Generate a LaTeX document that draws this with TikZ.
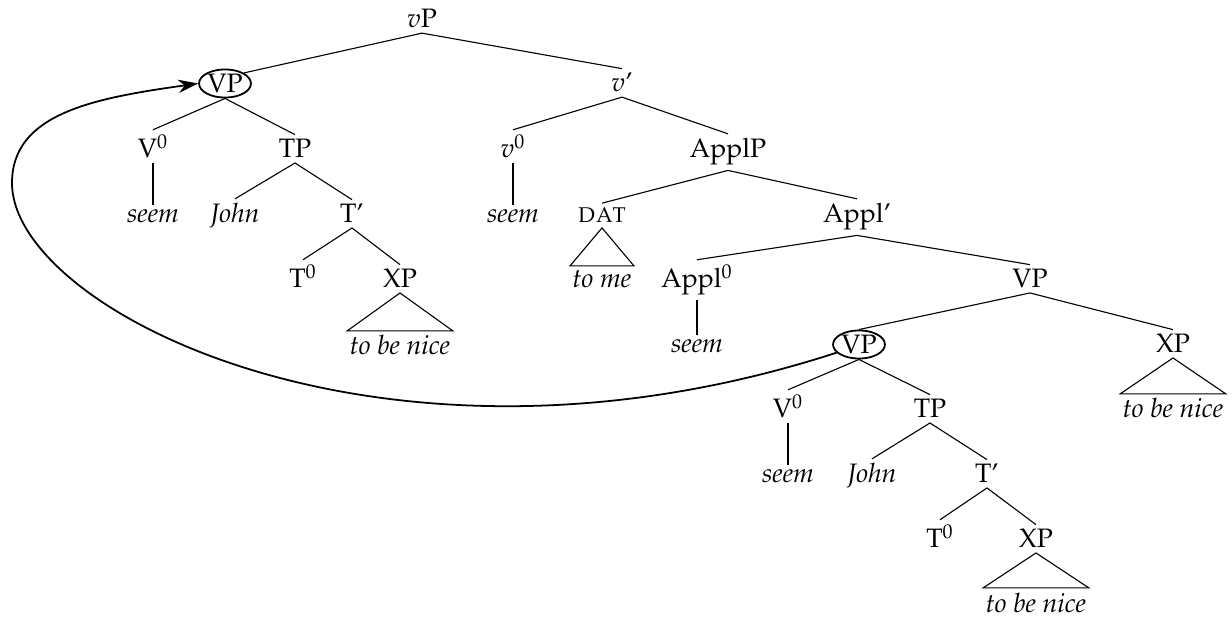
\documentclass[12pt,tikz,border=0pt]{standalone}
\usepackage[T1]{fontenc}
\usepackage{mathpazo}
\usetikzlibrary{shapes.geometric,arrows.meta}
\begin{document}
\begin{tikzpicture}[x=0.45pt,y=-0.45pt,
  lbl/.style={anchor=base,inner sep=2pt},
  leaf/.style={anchor=base,inner ysep=2pt,inner xsep=1pt},
  circ/.style={draw,ellipse,inner sep=0.3pt,line width=0.8pt},
  branch/.style={line width=0.5pt},
  move/.style={line width=0.8pt,-{Stealth[length=9pt,width=6pt]}}]
\useasboundingbox (0,0) rectangle (1232,617);
% row 1-2
\node[lbl] (vP) at (422,28) {$v$P};
\node[circ] (VPa) at (225,83.5) {VP};
\node[lbl] (vbar) at (622,92) {$v$'};
% row 3
\node[lbl] (V0a) at (153,158) {V$^0$};
\node[lbl] (TPa) at (295,158) {TP};
\node[lbl] (v0) at (513,158) {$v^0$};
\node[lbl] (ApplP) at (728,158) {ApplP};
% row 4
\node[lbl] (seema) at (153,223) {\textit{seem}};
\node[lbl] (Johna) at (235,223) {\textit{John}};
\node[lbl] (Tbara) at (352,223) {T'};
\node[lbl] (seemv) at (513,223) {\textit{seem}};
\node[lbl] (DAT) at (602,223) {\textsc{dat}};
\node[lbl] (Applbar) at (857,223) {Appl'};
% row 5
\node[lbl] (T0a) at (303,288) {T$^0$};
\node[lbl] (XPa) at (400,288) {XP};
\node[leaf] (tome) at (602,288) {\textit{to me}};
\node[lbl] (Appl0) at (697,288) {Appl$^0$};
\node[lbl] (VPb) at (1030,288) {VP};
% row 6
\node[leaf] (nicea) at (400,355) {\textit{to be nice}};
\node[lbl] (seemb) at (697,353) {\textit{seem}};
\node[circ] (VPc) at (859,344.5) {VP};
\node[lbl] (XPb) at (1173,353) {XP};
% row 7
\node[lbl] (V0b) at (788,418) {V$^0$};
\node[lbl] (TPb) at (930,418) {TP};
\node[leaf] (niceb) at (1173,418) {\textit{to be nice}};
% row 8
\node[lbl] (seemc) at (788,483) {\textit{seem}};
\node[lbl] (Johnb) at (872,483) {\textit{John}};
\node[lbl] (Tbarb) at (987,483) {T'};
% row 9-10
\node[lbl] (T0b) at (940,548) {T$^0$};
\node[lbl] (XPc) at (1036,548) {XP};
\node[leaf] (nicec) at (1036,612) {\textit{to be nice}};
% branches
\draw[branch] (VPa.north east) -- (vP.south) -- (vbar.north);
\draw[branch] (V0a.north) -- (VPa.south) -- (TPa.north);
\draw[branch] (V0a.south) -- (seema.north);
\draw[branch] (Johna.north) -- (TPa.south) -- (Tbara.north);
\draw[branch] (T0a.north) -- (Tbara.south) -- (XPa.north);
\draw[branch] (XPa.south) -- (nicea.north west) -- (nicea.north east) -- cycle;
\draw[branch] (v0.north) -- (vbar.south) -- (ApplP.north);
\draw[branch] (v0.south) -- (seemv.north);
\draw[branch] (DAT.north) -- (ApplP.south) -- (Applbar.north);
\draw[branch] (DAT.south) -- (tome.north west) -- (tome.north east) -- cycle;
\draw[branch] (Appl0.north) -- (Applbar.south) -- (VPb.north);
\draw[branch] (Appl0.south) -- (seemb.north);
\draw[branch] (VPc.north) -- (VPb.south) -- (XPb.north);
\draw[branch] (XPb.south) -- (niceb.north west) -- (niceb.north east) -- cycle;
\draw[branch] (V0b.north) -- (VPc.south) -- (TPb.north);
\draw[branch] (V0b.south) -- (seemc.north);
\draw[branch] (Johnb.north) -- (TPb.south) -- (Tbarb.north);
\draw[branch] (T0b.north) -- (Tbarb.south) -- (XPc.north);
\draw[branch] (XPc.south) -- (nicec.north west) -- (nicec.north east) -- cycle;
% movement arrow
\coordinate (turn) at (12,183);
\draw[move] (VPc.200) .. controls (383,500) and (12,310) .. (turn)
  .. controls (12,113) and (95,98) .. (VPa.west);
\end{tikzpicture}
\end{document}
